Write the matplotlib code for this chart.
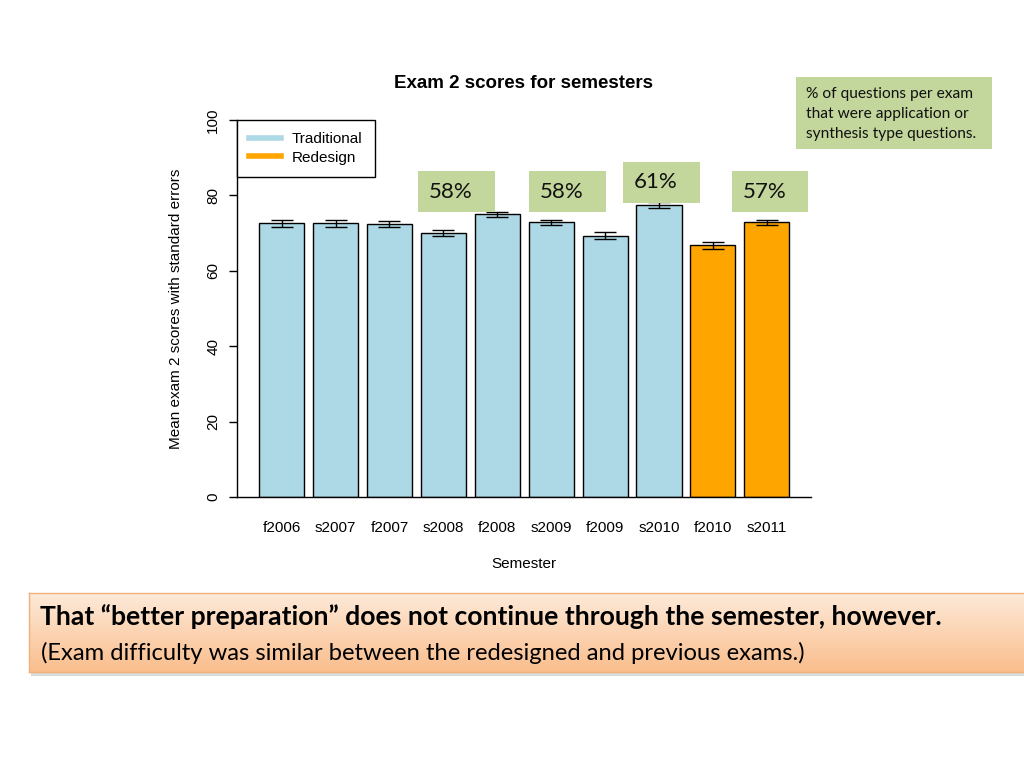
import matplotlib
matplotlib.use("Agg")
import matplotlib.pyplot as plt
import numpy as np
from matplotlib.patches import Rectangle
from matplotlib.lines import Line2D

# ---------------- data ----------------
semesters = ["f2006", "s2007", "f2007", "s2008", "f2008", "s2009", "f2009", "s2010", "f2010", "s2011"]
mean_scores = [72.6, 72.6, 72.4, 69.9, 75.0, 72.9, 69.3, 77.4, 66.8, 72.9]
std_errors = [0.9, 0.9, 0.8, 0.8, 0.6, 0.7, 0.9, 0.8, 0.9, 0.7]
course_type = ["Traditional"] * 8 + ["Redesign"] * 2
pct_labels = ["58%", "58%", "61%", "57%"]
y_ticks = [0, 20, 40, 60, 80, 100]
legend_labels = ["Traditional", "Redesign"]

type_colors = {"Traditional": "#ADD8E6", "Redesign": "#FFA500"}

W, H = 1024, 768
fig = plt.figure(figsize=(W / 100, H / 100), dpi=100)
fig.patch.set_facecolor("white")


def rect_px(x0, y0, x1, y1):
    return [x0 / W, 1 - y1 / H, (x1 - x0) / W, (y1 - y0) / H]


def fx(x):
    return x / W


def fy(y):
    return 1 - y / H


chart_font = "Liberation Sans"
slide_font = "Lato"

# ---------------- chart ----------------
ax = fig.add_axes(rect_px(237, 120, 811, 497))
x = np.arange(len(semesters))
bar_colors = [type_colors[t] for t in course_type]
ax.bar(x, mean_scores, width=0.835, color=bar_colors, edgecolor="black", linewidth=1, zorder=2)
ax.errorbar(x, mean_scores, yerr=std_errors, fmt="none", ecolor="black",
            elinewidth=1, capsize=8, capthick=1, zorder=3)
ax.set_xlim(-0.829, 9.82)
ax.set_ylim(0, 100)
for s in ["top", "right"]:
    ax.spines[s].set_visible(False)
ax.spines["left"].set_linewidth(1)
ax.spines["bottom"].set_linewidth(1)

ax.set_yticks(y_ticks)
ax.set_yticklabels([str(v) for v in y_ticks], rotation=90, va="center",
                   fontsize=11, family=chart_font)
ax.tick_params(axis="y", direction="out", length=6, width=1, pad=6)
ax.set_xticks(x)
ax.set_xticklabels(semesters, fontsize=11, family=chart_font)
ax.tick_params(axis="x", length=0, pad=17.5)

ax.set_xlabel("Semester", fontsize=11, family=chart_font)
ax.xaxis.set_label_coords(0.5, -0.158)
ax.set_ylabel("Mean exam 2 scores with standard errors", fontsize=11, family=chart_font)
ax.yaxis.set_label_coords(-0.094, 0.5)

fig.text(fx(524), fy(83), "Exam 2 scores for semesters", ha="center", va="center",
         fontsize=13.5, fontweight="bold", family=chart_font)

handles = [Line2D([], [], color=type_colors[l], lw=4) for l in legend_labels]
leg = ax.legend(handles, legend_labels, loc="upper left", bbox_to_anchor=(0, 1),
                borderaxespad=0, fancybox=False, edgecolor="black", framealpha=1,
                prop={"family": chart_font, "size": 11}, handlelength=2.1,
                handletextpad=0.7, labelspacing=0.3, borderpad=0.8)
leg.get_frame().set_linewidth(1)

# ---------------- annotation boxes ----------------
green = "#c3d69b"
pct_boxes = [(418, 171, 495, 212), (529, 171, 606, 212), (623, 162, 700, 203), (732, 171, 808, 212)]
for (x0, y0, x1, y1), lab in zip(pct_boxes, pct_labels):
    fig.patches.append(Rectangle((fx(x0), fy(y1)), (x1 - x0) / W, (y1 - y0) / H,
                                 transform=fig.transFigure, facecolor=green,
                                 edgecolor="none", zorder=5))
    fig.text(fx(x0 + 11), fy((y0 + y1) / 2), lab, ha="left", va="center",
             fontsize=16, family=slide_font, color="#111111", zorder=6)

fig.patches.append(Rectangle((fx(796), fy(149)), (992 - 796) / W, (149 - 77) / H,
                             transform=fig.transFigure, facecolor=green,
                             edgecolor="none", zorder=5))
note_lines = ["% of questions per exam", "that were application or", "synthesis type questions."]
note_texts = []
for i, line in enumerate(note_lines):
    t = fig.text(fx(806), fy(98 + 20 * i), line, ha="left", va="baseline",
                 fontsize=10.5, family=slide_font, color="#111111", zorder=6)
    note_texts.append(t)

# ---------------- bottom callout ----------------
bx0, by0, bx1, by1 = 29, 593, 1030, 672
fig.patches.append(Rectangle((fx(bx0 + 2), fy(by1 + 4)), (bx1 - bx0) / W, (by1 - by0) / H,
                             transform=fig.transFigure, facecolor="#b0b0b0", alpha=0.45,
                             edgecolor="none", zorder=1))
gax = fig.add_axes(rect_px(bx0, by0, bx1, by1), zorder=2)
top_c = np.array([253, 234, 218]) / 255
bot_c = np.array([250, 190, 140]) / 255
tt = np.linspace(0, 1, 100)[:, None]
grad = top_c[None, None, :] * (1 - tt[:, :, None]) + bot_c[None, None, :] * tt[:, :, None]
gax.imshow(grad, aspect="auto", extent=[0, 1, 0, 1], origin="upper")
gax.set_xlim(0, 1)
gax.set_ylim(0, 1)
gax.set_xticks([])
gax.set_yticks([])
for s in gax.spines.values():
    s.set_edgecolor("#f0b07a")
    s.set_linewidth(1)

t1 = fig.text(fx(40), fy(625), "That \u201cbetter preparation\u201d does not continue through the semester, however.",
              ha="left", va="baseline", fontsize=17, fontweight="bold", family=slide_font,
              color="black", zorder=10)
t2 = fig.text(fx(41), fy(660), "(Exam difficulty was similar between the redesigned and previous exams.)",
              ha="left", va="baseline", fontsize=15, family=slide_font, color="black", zorder=10)

# fit slide-text sizes to the widths measured on the reference
renderer = fig.canvas.get_renderer()


def fit(text, target_px):
    w = text.get_window_extent(renderer).width
    text.set_fontsize(text.get_fontsize() * target_px / w)


fit(t1, 902)
fit(t2, 767)
wmax = max(t.get_window_extent(renderer).width for t in note_texts)
for t in note_texts:
    t.set_fontsize(t.get_fontsize() * 172 / wmax)

fig.savefig("out.png", dpi=100, facecolor="white")
